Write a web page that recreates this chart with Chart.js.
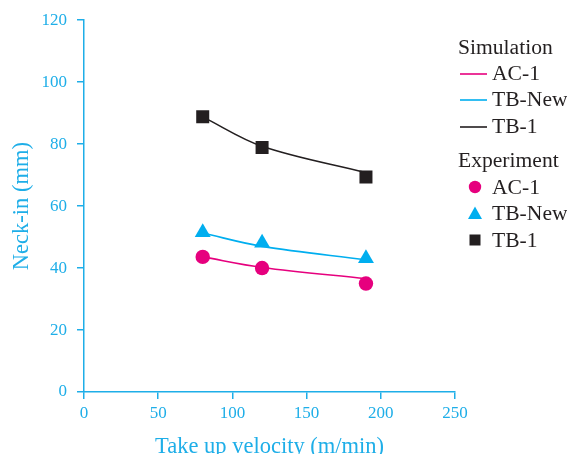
<!DOCTYPE html>
<html>
<head>
<meta charset="utf-8">
<script src="https://cdn.jsdelivr.net/npm/chart.js@4.4.1/dist/chart.umd.min.js"></script>
<style>
  html, body { margin: 0; padding: 0; background: #fff; overflow: hidden; }
  #wrap { position: relative; width: 567px; height: 454px; overflow: hidden; }
  #c { position: absolute; left: 0; top: 0; }
  .lg { position: absolute; font-family: "Liberation Serif", serif; font-size: 21.6px; color: #231f20; line-height: 20px; white-space: nowrap; }
  .lg svg { position: absolute; }
</style>
</head>
<body>
<div id="wrap">
  <canvas id="c" width="567" height="464" style="width:567px;height:464px"></canvas>
  <div class="lg" style="left:458px;top:37px">Simulation</div>
  <div class="lg" style="left:460px;top:63px"><svg width="28" height="4" style="left:0;top:9px"><line x1="0" y1="2" x2="27" y2="2" stroke="#e6007e" stroke-width="1.6"/></svg><span style="position:absolute;left:32px;top:0">AC-1</span></div>
  <div class="lg" style="left:460px;top:89px"><svg width="28" height="4" style="left:0;top:9px"><line x1="0" y1="2" x2="27" y2="2" stroke="#00aeef" stroke-width="1.6"/></svg><span style="position:absolute;left:32px;top:0">TB-New</span></div>
  <div class="lg" style="left:460px;top:116px"><svg width="28" height="4" style="left:0;top:9px"><line x1="0" y1="2" x2="27" y2="2" stroke="#231f20" stroke-width="1.6"/></svg><span style="position:absolute;left:32px;top:0">TB-1</span></div>
  <div class="lg" style="left:458px;top:150px">Experiment</div>
  <div class="lg" style="left:460px;top:177px"><svg width="16" height="16" style="left:7px;top:2px"><circle cx="8" cy="8" r="6.2" fill="#e6007e"/></svg><span style="position:absolute;left:32px;top:0">AC-1</span></div>
  <div class="lg" style="left:460px;top:203px"><svg width="16" height="16" style="left:7px;top:2px"><polygon points="8,1.5 15,14 1,14" fill="#00aeef"/></svg><span style="position:absolute;left:32px;top:0">TB-New</span></div>
  <div class="lg" style="left:460px;top:230px"><svg width="16" height="16" style="left:7px;top:2px"><rect x="2.5" y="2.5" width="11" height="11" fill="#231f20"/></svg><span style="position:absolute;left:32px;top:0">TB-1</span></div>
</div>
<script>
// Take up velocity (m/min)
const velocities = [80, 120, 190];
// Simulation curves (Neck-in, mm)
const simAC1   = [43.6, 40.2, 36.6];
const simTBNew = [51.3, 47.0, 42.7];
const simTB1   = [88.8, 79.3, 70.8];
// Experiment points (Neck-in, mm)
const expAC1   = [43.6, 40.0, 35.0];
const expTBNew = [51.5, 48.1, 43.1];
const expTB1   = [88.8, 78.9, 69.4];
// Axis ticks
const xTicks = [0, 50, 100, 150, 200, 250];
const yTicks = [0, 20, 40, 60, 80, 100, 120];

const CYAN = '#1eaee8';
const PINK = '#e6007e';
const BLUE = '#00aeef';
const BLACK = '#231f20';

const pts = (ys) => velocities.map((x, i) => ({ x: x, y: ys[i] }));

const lineDs = (label, ys, color) => ({
  label: label, data: pts(ys), showLine: true, borderColor: color, backgroundColor: color,
  borderWidth: 1.6, pointRadius: 0, tension: 0.35, order: 2
});
const markDs = (label, ys, color, style, r) => ({
  label: label, data: pts(ys), showLine: false, borderColor: color, backgroundColor: color,
  pointStyle: style, pointRadius: r, pointHoverRadius: r, borderWidth: 0, order: 1
});

new Chart(document.getElementById('c'), {
  type: 'scatter',
  data: {
    datasets: [
      lineDs('Simulation AC-1', simAC1, PINK),
      lineDs('Simulation TB-New', simTBNew, BLUE),
      lineDs('Simulation TB-1', simTB1, BLACK),
      markDs('Experiment AC-1', expAC1, PINK, 'circle', 7.2),
      markDs('Experiment TB-New', expTBNew, BLUE, 'triangle', 9.2),
      markDs('Experiment TB-1', expTB1, BLACK, 'rect', 9.2)
    ]
  },
  options: {
    responsive: false,
    animation: false,
    layout: { padding: { left: 0, right: 112, top: 20, bottom: 0 } },
    plugins: { legend: { display: false }, tooltip: { enabled: false } },
    scales: {
      x: {
        type: 'linear', min: 0, max: 250,
        afterBuildTicks: (s) => { s.ticks = xTicks.map(v => ({ value: v })); },
        afterFit: (s) => { s.height = 72; },
        border: { display: true, color: CYAN, width: 1.5 },
        grid: { display: true, drawOnChartArea: false, drawTicks: true, tickLength: 7, color: CYAN, lineWidth: 1.5 },
        ticks: { color: CYAN, padding: 4, maxRotation: 0, font: { family: 'Liberation Serif', size: 17 } },
        title: { display: true, text: 'Take up velocity (m/min)', color: CYAN,
                 font: { family: 'Liberation Serif', size: 22.5 }, padding: { top: 0, bottom: 3 } }
      },
      y: {
        type: 'linear', min: 0, max: 120,
        afterBuildTicks: (s) => { s.ticks = yTicks.map(v => ({ value: v })); },
        afterFit: (s) => { s.width = 84; },
        border: { display: true, color: CYAN, width: 1.5 },
        grid: { display: true, drawOnChartArea: false, drawTicks: true, tickLength: 7, color: CYAN, lineWidth: 1.5 },
        ticks: { color: CYAN, padding: 10, font: { family: 'Liberation Serif', size: 17 } },
        title: { display: true, text: 'Neck-in (mm)', color: CYAN,
                 font: { family: 'Liberation Serif', size: 22.5 }, padding: { top: 9, bottom: 0 } }
      }
    }
  }
});
</script>
</body>
</html>
